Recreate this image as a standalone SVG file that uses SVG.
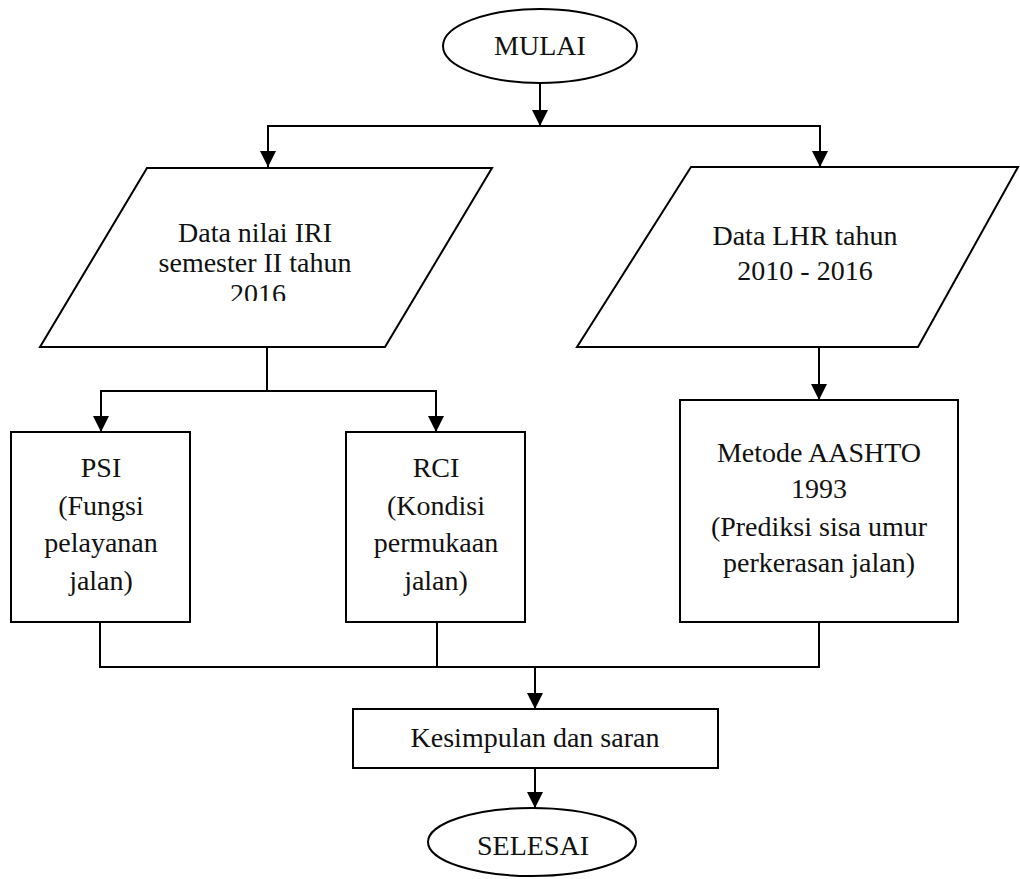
<svg xmlns="http://www.w3.org/2000/svg" width="1020" height="879" viewBox="0 0 1020 879">
<style>
.s{fill:#fff;stroke:#000;stroke-width:2}
.c{fill:none;stroke:#000;stroke-width:2}
.t{font-family:"Liberation Serif","Times New Roman",serif;font-size:28px;fill:#111;text-anchor:middle}
</style>
<defs>
<marker id="ah" viewBox="0 0 16 16" refX="16" refY="8" markerWidth="16" markerHeight="16" markerUnits="userSpaceOnUse" orient="auto">
<path d="M0,0 L16,8 L0,16 z" fill="#000"/>
</marker>
<clipPath id="clipIRI"><rect x="0" y="160" width="520" height="141"/></clipPath>
</defs>
<rect width="1020" height="879" fill="#fff"/>
<g id="connectors">
<line class="c" x1="540" y1="83" x2="540" y2="126" marker-end="url(#ah)"/>
<polyline class="c" points="268,167 268,126 820,126 820,167"/>
<line class="c" x1="268" y1="127" x2="268" y2="167" marker-end="url(#ah)"/>
<line class="c" x1="820" y1="127" x2="820" y2="167" marker-end="url(#ah)"/>
<line class="c" x1="267" y1="347" x2="267" y2="391"/>
<polyline class="c" points="101,432 101,391 436,391 436,432"/>
<line class="c" x1="101" y1="392" x2="101" y2="432" marker-end="url(#ah)"/>
<line class="c" x1="436" y1="392" x2="436" y2="432" marker-end="url(#ah)"/>
<line class="c" x1="819" y1="347" x2="819" y2="400" marker-end="url(#ah)"/>
<polyline class="c" points="100,622 100,667 819,667 819,622"/>
<line class="c" x1="437" y1="622" x2="437" y2="667"/>
<line class="c" x1="535" y1="667" x2="535" y2="709" marker-end="url(#ah)"/>
<line class="c" x1="535" y1="768" x2="535" y2="808" marker-end="url(#ah)"/>
</g>
<g id="mulai">
<ellipse class="s" cx="540" cy="46" rx="97" ry="37"/>
<text class="t" x="540" y="55">MULAI</text>
</g>
<g id="data-iri">
<polygon class="s" points="147,168 492,168 385,347 40,347"/>
<g clip-path="url(#clipIRI)">
<text class="t" x="255" y="242">Data nilai IRI</text>
<text class="t" x="255" y="272">semester II tahun</text>
<text class="t" x="258" y="303">2016</text>
</g>
</g>
<g id="data-lhr">
<polygon class="s" points="691,167 1018,167 918,347 577,347"/>
<text class="t" x="805" y="245">Data LHR tahun</text>
<text class="t" x="805" y="280">2010 - 2016</text>
</g>
<g id="psi">
<rect class="s" x="11" y="432" width="179" height="190"/>
<text class="t" x="101" y="477">PSI</text>
<text class="t" x="101" y="515">(Fungsi</text>
<text class="t" x="101" y="552">pelayanan</text>
<text class="t" x="101" y="590">jalan)</text>
</g>
<g id="rci">
<rect class="s" x="346" y="432" width="179" height="190"/>
<text class="t" x="436" y="477">RCI</text>
<text class="t" x="436" y="515">(Kondisi</text>
<text class="t" x="436" y="552">permukaan</text>
<text class="t" x="436" y="590">jalan)</text>
</g>
<g id="aashto">
<rect class="s" x="680" y="400" width="278" height="222"/>
<text class="t" x="819" y="462">Metode AASHTO</text>
<text class="t" x="819" y="498">1993</text>
<text class="t" x="819" y="536">(Prediksi sisa umur</text>
<text class="t" x="819" y="572">perkerasan jalan)</text>
</g>
<g id="kesimpulan">
<rect class="s" x="353" y="709" width="365" height="59"/>
<text class="t" x="535" y="747">Kesimpulan dan saran</text>
</g>
<g id="selesai">
<ellipse class="s" cx="532" cy="842" rx="104" ry="34"/>
<text class="t" x="533" y="855">SELESAI</text>
</g>
</svg>
